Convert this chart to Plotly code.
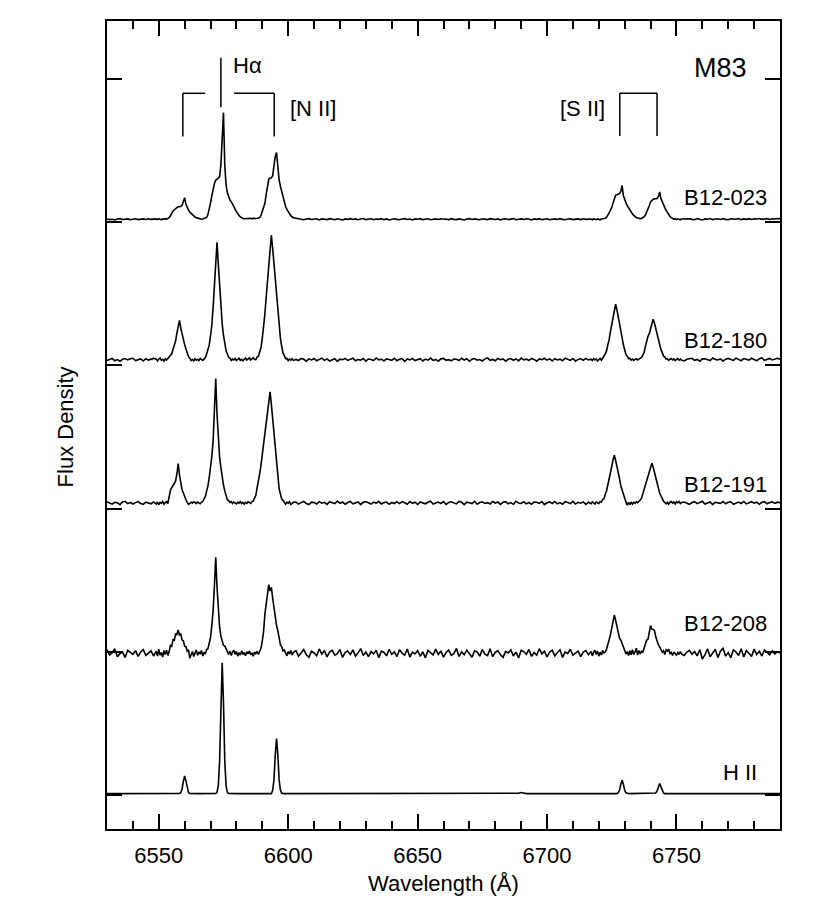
import plotly.graph_objects as go

# ---------------- data ----------------
# wavelength sampling (Angstrom), shared by all spectra
wavelength = [
    # 6530-6548
    6530, 6531, 6532, 6533, 6534, 6535, 6536, 6537, 6538, 6539,
    6540, 6541, 6542, 6543, 6544, 6545, 6546, 6547, 6548,
    # 6549-6602 (Halpha + [N II] region)
    6549, 6549.5, 6550, 6550.5, 6551, 6551.5, 6552, 6552.5, 6553, 6553.5,
    6554, 6554.5, 6555, 6555.5, 6556, 6556.5, 6557, 6557.5, 6558, 6558.5,
    6559, 6559.5, 6560, 6560.5, 6561, 6561.5, 6562, 6562.5, 6563, 6563.5,
    6564, 6564.5, 6565, 6565.5, 6566, 6566.5, 6567, 6567.5, 6568, 6568.5,
    6569, 6569.5, 6570, 6570.5, 6571, 6571.5, 6572, 6572.5, 6573, 6573.5,
    6574, 6574.5, 6575, 6575.5, 6576, 6576.5, 6577, 6577.5, 6578, 6578.5,
    6579, 6579.5, 6580, 6580.5, 6581, 6581.5, 6582, 6582.5, 6583, 6583.5,
    6584, 6584.5, 6585, 6585.5, 6586, 6586.5, 6587, 6587.5, 6588, 6588.5,
    6589, 6589.5, 6590, 6590.5, 6591, 6591.5, 6592, 6592.5, 6593, 6593.5,
    6594, 6594.5, 6595, 6595.5, 6596, 6596.5, 6597, 6597.5, 6598, 6598.5,
    6599, 6599.5, 6600, 6600.5, 6601, 6601.5, 6602,
    # 6603-6716
    6603, 6604, 6605, 6606, 6607, 6608, 6609, 6610, 6611, 6612,
    6613, 6614, 6615, 6616, 6617, 6618, 6619, 6620, 6621, 6622,
    6623, 6624, 6625, 6626, 6627, 6628, 6629, 6630, 6631, 6632,
    6633, 6634, 6635, 6636, 6637, 6638, 6639, 6640, 6641, 6642,
    6643, 6644, 6645, 6646, 6647, 6648, 6649, 6650, 6651, 6652,
    6653, 6654, 6655, 6656, 6657, 6658, 6659, 6660, 6661, 6662,
    6663, 6664, 6665, 6666, 6667, 6668, 6669, 6670, 6671, 6672,
    6673, 6674, 6675, 6676, 6677, 6678, 6679, 6680, 6681, 6682,
    6683, 6684, 6685, 6686, 6687, 6688, 6689, 6690, 6691, 6692,
    6693, 6694, 6695, 6696, 6697, 6698, 6699, 6700, 6701, 6702,
    6703, 6704, 6705, 6706, 6707, 6708, 6709, 6710, 6711, 6712,
    6713, 6714, 6715, 6716,
    # 6717-6752 ([S II] region)
    6717, 6717.5, 6718, 6718.5, 6719, 6719.5, 6720, 6720.5, 6721, 6721.5,
    6722, 6722.5, 6723, 6723.5, 6724, 6724.5, 6725, 6725.5, 6726, 6726.5,
    6727, 6727.5, 6728, 6728.5, 6729, 6729.5, 6730, 6730.5, 6731, 6731.5,
    6732, 6732.5, 6733, 6733.5, 6734, 6734.5, 6735, 6735.5, 6736, 6736.5,
    6737, 6737.5, 6738, 6738.5, 6739, 6739.5, 6740, 6740.5, 6741, 6741.5,
    6742, 6742.5, 6743, 6743.5, 6744, 6744.5, 6745, 6745.5, 6746, 6746.5,
    6747, 6747.5, 6748, 6748.5, 6749, 6749.5, 6750, 6750.5, 6751, 6751.5,
    6752,
    # 6753-6790
    6753, 6754, 6755, 6756, 6757, 6758, 6759, 6760, 6761, 6762,
    6763, 6764, 6765, 6766, 6767, 6768, 6769, 6770, 6771, 6772,
    6773, 6774, 6775, 6776, 6777, 6778, 6779, 6780, 6781, 6782,
    6783, 6784, 6785, 6786, 6787, 6788, 6789, 6790,
]

# flux above each spectrum's own baseline, in hundredths of one offset step
flux_b12_023 = [
    0.3, -0.2, 0.1, -0.4, 0.2, 0.5, -0.1, 0.0, 0.3, -0.3,
    0.2, 0.4, -0.2, 0.1, 0.3, -0.1, 0.4, 0.0, 0.2,
    0.3, -0.2, 0.4, 0.0, -0.3, 0.3, 0.1, 0.5, 0.2, 0.6,
    1.2, 2.5, 4.3, 5.8, 6.7, 7.6, 8.5, 8.9, 8.8, 9.0,
    9.8, 12.8, 15.1, 10.5, 7.8, 6.4, 5.0, 4.0, 3.1, 2.3,
    1.6, 1.2, 0.8, 0.5, 0.3, 0.1, 0.2, 0.4, 0.7, 1.3,
    3.5, 7.0, 11.5, 16.5, 21.0, 25.0, 27.3, 28.3, 28.8, 29.6,
    38.0, 58.0, 74.5, 38.0, 24.0, 18.5, 15.5, 13.5, 12.2, 10.8,
    9.0, 7.0, 5.3, 3.8, 2.6, 1.7, 1.0, 0.6, 0.4, 0.5,
    0.2, 0.6, 0.3, 0.7, 0.4, 0.8, 0.5, 0.9, 0.8, 1.0,
    1.2, 2.8, 5.5, 8.8, 11.2, 17.5, 24.5, 28.0, 28.8, 29.0,
    30.5, 37.0, 44.0, 46.6, 34.5, 27.5, 23.0, 19.2, 15.5, 12.0,
    9.0, 7.0, 5.2, 3.8, 2.6, 1.8, 1.2,
    0.8, 0.4, 0.1, -0.3, 0.2, 0.5, -0.1, 0.0, 0.4, -0.4,
    0.3, 0.1, -0.2, 0.5, 0.0, -0.3, 0.4, 0.2, -0.4, 0.3,
    0.0, 0.5, -0.1, 0.3, -0.3, 0.2, 0.6, -0.2, 0.1, 0.4,
    -0.3, 0.2, 0.0, 0.5, -0.2, 0.3, -0.4, 0.1, 0.4, 0.0,
    -0.3, 0.3, 0.5, -0.1, 0.2, -0.4, 0.3, 0.1, 0.5, -0.2,
    0.0, 0.4, -0.3, 0.2, 0.3, -0.1, 0.4, 0.1, 0.2, -0.3,
    0.5, 0.0, -0.2, 0.3, 0.1, -0.4, 0.2, 0.5, -0.1, 0.3,
    0.0, -0.3, 0.4, 0.2, -0.2, 0.5, 0.1, -0.1, 0.3, -0.4,
    0.2, 0.4, -0.2, 0.0, 0.5, -0.3, 0.1, 0.3, -0.1, 0.4,
    0.2, -0.4, 0.3, 0.0, 0.5, -0.2, 0.1, 0.4, -0.3, 0.2,
    0.3, -0.1, 0.5, 0.0, -0.3, 0.2, 0.4, -0.2, 0.1, 0.3,
    -0.2, 0.4, 0.0, 0.3,
    0.2, -0.3, 0.4, 0.0, -0.2, 0.3, 0.1, -0.3, 0.2, 0.5,
    0.3, 0.8, 1.5, 2.8, 4.5, 6.5, 8.3, 11.5, 15.0, 16.8,
    17.2, 17.8, 18.0, 19.5, 23.7, 16.5, 13.5, 11.5, 9.5, 7.8,
    6.3, 5.0, 3.8, 2.8, 1.9, 1.3, 0.9, 0.6, 0.5, 0.6,
    1.0, 1.8, 3.0, 4.8, 6.8, 9.5, 12.2, 13.6, 14.1, 14.3,
    14.4, 14.6, 15.8, 19.1, 14.5, 12.0, 10.0, 8.2, 6.3, 4.5,
    3.0, 2.0, 1.2, 0.6, 0.2, 0.3, -0.2, 0.4, 0.1, -0.3,
    0.2,
    0.3, -0.1, 0.4, 0.0, -0.3, 0.5, 0.2, -0.4, 0.3, 0.1,
    0.6, -0.2, 0.2, 0.4, -0.1, 0.5, 0.0, -0.3, 0.4, 0.2,
    0.1, 0.6, -0.2, 0.3, 0.0, 0.5, -0.1, 0.4, 0.2, 0.6,
    0.0, 0.3, 0.5, -0.1, 0.4, 0.2, 0.6, 0.3,
]

flux_b12_180 = [
    -0.5, 0.4, 0.9, -0.7, 0.1, -1.1, 0.3, 0.8, -0.2, 0.6,
    1.0, -0.6, -0.1, 0.5, -0.9, 0.7, -0.3, 0.2, 0.9,
    0.5, -0.8, 0.3, 1.2, -0.5, 0.2, -1.0, 0.6, -0.3, 0.8,
    1.7, 3.1, 4.1, 7.1, 10.2, 13.0, 18.5, 22.6, 27.4, 22.0,
    17.4, 13.8, 10.5, 7.5, 4.0, 2.2, 0.9, -0.6, 0.2, -0.9,
    0.6, -0.4, 0.3, -0.7, 0.9, 0.1, -0.5, 0.4, 1.5, 3.9,
    6.9, 10.3, 16.8, 24.2, 36.5, 50.8, 67.2, 82.0, 66.8, 51.0,
    35.7, 25.0, 16.9, 11.3, 6.4, 4.0, 1.6, 1.1, -0.5, 0.4,
    -0.2, 0.8, -0.6, 0.3, 1.0, -0.4, 0.2, -0.8, 0.5, 1.1,
    -0.3, 0.4, 1.3, -0.2, 0.6, 1.4, 0.2, 0.0, 1.8, 2.4,
    5.6, 8.4, 15.1, 22.9, 32.0, 43.8, 54.6, 67.3, 78.5, 87.0,
    77.8, 66.5, 55.0, 43.1, 32.5, 22.3, 14.9, 9.2, 4.7, 2.9,
    0.8, 0.9, -0.6, 0.4, -0.3, 0.7, -0.5,
    0.2, -0.6, 0.9, 0.3, -1.0, 0.5, -0.2, 0.8, -0.7, 0.1,
    1.1, -0.4, 0.6, -0.9, 0.2, 0.7, -1.2, 0.4, 0.0, 0.9,
    -0.5, 0.3, 1.0, -0.8, 0.1, -0.3, 0.8, -1.0, 0.5, 0.2,
    -0.6, 1.2, -0.2, 0.4, -0.9, 0.6, 0.0, -0.4, 1.0, -0.7,
    0.3, 0.8, -1.1, 0.5, -0.2, 0.9, -0.6, 0.1, 0.7, -0.9,
    0.4, -0.3, 1.1, -0.5, 0.2, -1.0, 0.6, 0.9, -0.4, 0.0,
    -0.8, 0.5, 0.3, -0.6, 1.0, -0.2, 0.7, -1.1, 0.4, 0.8,
    -0.3, 0.1, -0.9, 0.6, 1.2, -0.5, 0.2, -0.7, 0.9, 0.0,
    0.5, -1.0, 0.3, 0.8, -0.4, 0.6, -0.8, 1.1, -0.1, 0.4,
    -0.6, 0.9, 0.2, -1.1, 0.5, 0.0, 1.0, -0.3, 0.6, -0.9,
    0.7, -0.2, 0.4, -0.7, 1.1, 0.3, -0.5, 0.8, -1.0, 0.2,
    0.6, -0.4, 0.9, -0.2,
    0.4, -0.6, 0.8, -0.2, 0.5, -0.9, 0.3, 0.9, -0.4, 0.8,
    2.6, 4.1, 6.3, 10.5, 14.0, 19.7, 24.2, 30.1, 34.6, 38.7,
    35.0, 29.5, 24.8, 19.1, 14.7, 10.4, 6.9, 3.5, 2.5, 0.8,
    0.9, -0.3, 0.4, -0.5, 0.2, 0.7, -0.2, 0.5, 1.1, 1.5,
    3.2, 5.0, 9.3, 14.2, 16.4, 18.2, 22.0, 25.2, 28.2, 25.6,
    21.4, 18.1, 13.8, 10.8, 7.0, 5.1, 2.5, 1.9, 0.4, 0.7,
    -0.5, 0.3, 0.8, -0.2, 0.5, -0.6, 0.2, 0.9, -0.3, 0.4,
    -0.4,
    -0.8, 0.3, 0.5, 1.0, -0.4, 0.2, -1.1, 0.6, 0.7, 0.3,
    -0.6, 1.2, 0.1, -0.2, 0.6, -1.0, 0.4, 0.9, 0.0, -0.5,
    1.1, 0.3, -0.7, 0.8, 0.4, -0.3, 1.0, 0.2, -0.8, 0.6,
    1.2, -0.4, 0.5, 0.9, -0.2, 0.3, 1.0, 0.4,
]

flux_b12_191 = [
    0.8, -0.3, -0.9, 0.4, 0.1, -1.2, 0.6, 1.1, -0.5, 0.3,
    -0.8, 0.2, 0.9, -0.4, -1.0, 0.5, 0.1, -0.6, 0.7,
    -0.8, 0.6, -1.2, 0.4, -0.3, 1.0, -0.9, 0.2, 0.9, -0.4,
    4.6, 8.8, 10.6, 12.3, 13.4, 15.2, 20.3, 27.5, 19.6, 14.3,
    9.1, 6.9, 3.6, 2.2, 0.4, -1.0, -0.4, 0.5, -0.2, 0.8,
    0.3, -0.5, 0.6, 0.1, -0.6, 0.4, 1.0, 2.9, 4.5, 8.2,
    11.9, 17.9, 24.0, 32.5, 43.4, 62.6, 86.9, 62.3, 43.8, 31.9,
    24.6, 17.1, 12.5, 8.4, 5.1, 2.2, 1.6, 0.3, 0.9, -0.4,
    0.6, 0.2, -0.7, 0.5, -0.2, 0.9, -0.5, 0.3, -0.9, 0.4,
    -0.3, 0.7, 0.0, -0.4, 0.9, 1.2, 3.3, 5.3, 10.7, 14.5,
    20.4, 26.5, 33.9, 41.0, 48.9, 56.8, 64.9, 71.5, 77.5, 68.8,
    58.3, 46.2, 35.9, 25.0, 17.0, 9.8, 6.2, 2.7, 1.8, 0.2,
    -0.9, 0.5, -0.2, 0.8, -1.1, -0.3, 0.4,
    0.6, -0.8, 0.2, 1.0, -0.4, -1.1, 0.5, 0.3, -0.7, 0.9,
    -0.2, 0.4, -1.0, 0.8, 0.1, -0.5, 1.2, -0.3, 0.6, -0.9,
    0.3, 1.0, -0.6, 0.0, 0.7, -1.2, 0.4, 0.9, -0.2, -0.8,
    0.5, -0.1, 1.1, -0.7, 0.2, 0.6, -1.0, 0.3, -0.4, 0.8,
    -0.5, 0.9, 0.1, -0.9, 1.0, -0.3, 0.5, -1.1, 0.7, 0.2,
    -0.6, 0.4, 1.2, -0.8, 0.0, 0.6, -0.4, 0.9, -1.0, 0.3,
    0.8, -0.2, -0.7, 1.0, 0.4, -1.2, 0.5, 0.1, -0.5, 1.1,
    -0.9, 0.3, 0.7, -0.3, 0.2, -0.8, 1.0, -0.1, 0.6, -1.1,
    0.4, 0.9, -0.6, 0.2, -0.9, 1.2, 0.0, -0.4, 0.8, -0.7,
    0.3, -1.0, 0.6, 0.5, -0.3, 0.9, -1.2, 0.1, 0.7, -0.4,
    1.0, -0.6, 0.2, -0.9, 0.8, 0.3, -0.5, 1.1, -0.8, 0.4,
    -0.2, 0.7, -1.0, 0.5,
    -0.5, 0.7, 0.1, -0.8, 0.6, 0.2, -0.4, 0.9, 0.6, 2.3,
    3.0, 6.1, 8.5, 12.7, 16.4, 21.2, 25.4, 30.2, 33.3, 29.7,
    25.9, 20.7, 17.0, 12.0, 9.0, 5.4, 2.6, 0.5, -1.5, 0.3,
    -1.2, 0.6, -0.8, 0.5, -0.3, 0.8, 0.2, 1.0, 2.0, 3.3,
    6.2, 9.3, 11.8, 14.7, 17.3, 21.5, 24.7, 27.7, 25.1, 21.0,
    17.8, 13.6, 10.5, 6.9, 5.0, 2.4, 1.2, 0.3, -0.6, 0.4,
    -0.9, 0.5, 1.0, -0.2, 0.6, -0.7, 0.8, 0.1, 1.0, -0.5,
    0.3,
    0.6, -0.4, -1.0, 0.3, 0.9, -0.5, 0.4, 1.1, -0.8, 0.2,
    0.7, -1.2, 0.5, 0.0, -0.3, 1.0, -0.6, 0.4, 0.8, -0.9,
    0.1, 0.6, -0.4, 1.0, -0.7, 0.3, 0.8, -0.2, 0.5, -1.0,
    0.4, 0.9, -0.6, 0.2, 0.7, -0.3, 0.5, 0.1,
]

flux_b12_208 = [
    2.5, -1.2, 0.4, 3.2, -2.4, -0.3, 1.0, -3.0, 2.1, 0.6,
    -0.8, 1.8, -2.2, 0.9, 2.6, -1.5, -0.2, 1.7, -1.9,
    1.5, -2.0, 2.8, -1.2, 0.5, -2.6, 1.9, -0.8, 2.2, -1.5,
    1.0, 5.5, 4.8, 9.5, 9.0, 13.5, 13.2, 16.3, 12.8, 13.4,
    9.2, 8.7, 5.0, 4.6, 1.5, 2.4, -3.5, -1.0, 1.2, -2.2,
    0.8, 2.4, -1.5, 1.0, -0.6, 2.0, -1.9, 0.7, -0.5, 2.8,
    3.2, 7.4, 11.0, 19.5, 30.0, 47.2, 67.0, 46.5, 30.8, 18.2,
    12.0, 7.8, 5.5, 5.2, 3.0, 1.8, -0.8, 1.5, -1.6, 0.9,
    2.1, -0.7, 1.3, -2.0, 0.4, -1.2, 1.8, -0.9, 0.6, -1.7,
    1.1, -0.3, 1.6, -1.1, 0.3, -2.1, 0.9, -0.5, 1.4, -0.8,
    0.9, 3.6, 8.7, 15.2, 27.5, 33.6, 42.4, 48.0, 43.5, 46.0,
    38.6, 31.5, 25.7, 19.4, 15.8, 10.9, 5.8, 4.7, 1.6, 2.3,
    -0.4, -1.8, 1.2, -0.5, 2.0, -1.3, 0.7,
    1.8, -2.1, 0.7, 2.6, -1.0, -2.8, 1.4, 0.2, -1.7, 3.0,
    -0.6, 1.9, -2.5, 0.8, 2.2, -1.3, -0.2, 2.7, -2.9, 0.5,
    1.6, -0.9, 2.4, -2.0, 0.3, 3.3, -1.6, 0.9, -2.4, 1.2,
    -0.4, 2.1, -3.1, 1.5, 0.6, -1.8, 2.8, -0.7, 1.0, -2.3,
    2.5, 0.1, -1.4, 3.0, -2.6, 0.8, -0.5, 1.9, -2.1, 1.1,
    -3.2, 2.0, 0.4, -1.2, 2.9, -0.8, 1.6, -2.7, 0.6, 2.3,
    -1.5, -0.3, 3.4, -2.2, 1.0, -1.0, 2.2, 0.0, -2.8, 1.7,
    0.9, -2.0, 2.6, -0.6, -1.6, 3.1, -2.4, 0.7, 1.8, -1.1,
    -2.9, 1.3, 0.2, 2.5, -1.9, 0.8, -3.3, 2.0, 1.2, -0.7,
    2.7, -2.2, 0.5, -1.3, 3.2, -0.4, 1.5, -2.6, 0.9, 2.1,
    -1.8, 0.6, 2.4, -2.9, 1.0, -0.2, 2.8, -1.4, 0.3, 1.6,
    -2.3, 0.9, 1.9, -1.0,
    1.2, -1.8, 0.6, 2.2, -0.9, 1.5, -2.0, 0.8, -1.2, 1.9,
    0.2, 1.0, 3.0, 5.5, 9.5, 13.0, 17.5, 22.5, 26.7, 23.0,
    18.5, 14.0, 10.5, 9.3, 7.0, 4.5, 2.0, -0.5, 1.2, -1.6,
    1.8, -1.0, 2.5, -0.8, 1.0, 3.5, -1.3, 2.0, -0.5, 1.5,
    0.8, 3.5, 7.0, 9.3, 9.8, 14.0, 19.3, 17.0, 16.3, 16.0,
    11.5, 8.5, 6.0, 4.5, 2.5, 0.8, 1.8, -0.8, 2.4, 1.5,
    2.8, -0.5, 0.6, -1.5, 0.9, -0.4, -1.3, 0.5, -0.8, 1.2,
    -0.6,
    -1.5, 0.8, 2.0, -0.6, 1.2, -1.8, 2.6, -4.0, -1.2, 3.2,
    -2.5, 0.4, 2.8, -3.0, 1.5, 3.5, -2.0, 0.5, -3.2, 2.4,
    0.9, -1.6, 3.1, -2.6, 1.8, 0.0, -2.2, 2.9, -0.8, 1.4,
    -1.9, 2.2, 0.6, -1.0, 1.6, -0.5, 0.9, 0.3,
]

flux_h2 = [
    0, 0, 0, 0, 0, 0, 0, 0, 0, 0,
    0, 0, 0, 0, 0, 0, 0, 0, 0,
    0, 0, 0, 0, 0, 0, 0, 0, 0, 0,
    0, 0, 0, 0, 0, 0, 0, 0, 0.1, 0.7,
    3.1, 8.7, 12.4, 8.7, 3.1, 0.7, 0.1, 0, 0, 0,
    0, 0, 0, 0, 0, 0, 0, 0, 0, 0,
    0, 0, 0, 0, 0, 0, 0.1, 0.9, 5.5, 22.8,
    64.0, 91.3, 64.0, 22.8, 5.5, 0.9, 0.1, 0, 0, 0,
    0, 0, 0, 0, 0, 0, 0, 0, 0, 0,
    0, 0, 0, 0, 0, 0, 0, 0, 0, 0,
    0, 0, 0, 0, 0, 0, 0, 0, 0, 0,
    2.3, 9.6, 26.9, 38.4, 26.9, 9.6, 2.3, 0.4, 0, 0,
    0, 0, 0, 0, 0, 0, 0,
    0, 0, 0, 0, 0, 0, 0, 0, 0, 0,
    0, 0, 0, 0, 0, 0, 0, 0, 0, 0,
    0, 0, 0, 0, 0, 0, 0, 0, 0, 0,
    0, 0, 0, 0, 0, 0, 0, 0, 0, 0,
    0, 0, 0, 0, 0, 0, 0, 0, 0, 0,
    0, 0, 0, 0, 0, 0, 0, 0, 0, 0,
    0, 0, 0, 0, 0, 0, 0, 0, 0, 0,
    0, 0, 0, 0, 0, 0, 0, 0, 0, 0,
    0, 0, 0, 0, 0, 0, 0.3, 0.8, 0.3, 0,
    0, 0, 0, 0, 0, 0, 0, 0, 0, 0,
    0, 0, 0, 0, 0, 0, 0, 0, 0, 0,
    0, 0, 0, 0,
    0, 0, 0, 0, 0, 0, 0, 0, 0, 0,
    0, 0, 0, 0, 0, 0, 0, 0, 0, 0,
    0, 0.6, 2.3, 6.5, 9.3, 6.5, 2.3, 0.6, 0, 0,
    0, 0, 0, 0, 0, 0, 0, 0, 0, 0,
    0, 0, 0, 0, 0, 0, 0, 0, 0, 0,
    0.4, 1.8, 4.9, 7.0, 4.9, 1.8, 0.4, 0, 0, 0,
    0, 0, 0, 0, 0, 0, 0, 0, 0, 0,
    0,
    0, 0, 0, 0, 0, 0, 0, 0, 0, 0,
    0, 0, 0, 0, 0, 0, 0, 0, 0, 0,
    0, 0, 0, 0, 0, 0, 0, 0, 0, 0,
    0, 0, 0, 0, 0, 0, 0, 0,
]

spectrum_names = ["B12-023", "B12-180", "B12-191", "B12-208", "H II"]
spectrum_offsets = [4.02, 3.04, 2.04, 0.99, 0.01]
label_x = [6785.7, 6785.7, 6785.7, 6785.7, 6781.9]
label_y = [4.172, 3.177, 2.172, 1.201, 0.161]

# emission-line identification marks (wavelengths in Angstrom)
halpha_mark = 6574.0
nii_marks = [6559.3, 6594.6]
nii_gap = [6568.0, 6579.1]
sii_marks = [6728.1, 6742.5]

all_flux = [flux_b12_023, flux_b12_180, flux_b12_191, flux_b12_208, flux_h2]
for fl in all_flux:
    if len(fl) != len(wavelength):
        raise ValueError("length mismatch %d vs %d" % (len(fl), len(wavelength)))

FONT = "Liberation Sans, Arial, Helvetica, sans-serif"

fig = go.Figure()
for name, fl, off in zip(spectrum_names, all_flux, spectrum_offsets):
    fig.add_trace(go.Scatter(
        x=wavelength, y=[off + v / 100.0 for v in fl], mode="lines",
        name=name, line=dict(color="black", width=1.6),
        hoverinfo="skip", showlegend=False))

shapes = []
lw = 1.5
# H alpha tick
shapes.append(dict(type="line", xref="x", yref="y", x0=halpha_mark, x1=halpha_mark,
                   y0=4.802, y1=5.149, line=dict(color="black", width=lw)))
# [N II] bracket
shapes.append(dict(type="line", xref="x", yref="y", x0=nii_marks[0], x1=nii_marks[0],
                   y0=4.599, y1=4.900, line=dict(color="black", width=lw)))
shapes.append(dict(type="line", xref="x", yref="y", x0=nii_marks[0], x1=nii_gap[0],
                   y0=4.900, y1=4.900, line=dict(color="black", width=lw)))
shapes.append(dict(type="line", xref="x", yref="y", x0=nii_gap[1], x1=nii_marks[1],
                   y0=4.900, y1=4.900, line=dict(color="black", width=lw)))
shapes.append(dict(type="line", xref="x", yref="y", x0=nii_marks[1], x1=nii_marks[1],
                   y0=4.599, y1=4.900, line=dict(color="black", width=lw)))
# [S II] bracket
shapes.append(dict(type="line", xref="x", yref="y", x0=sii_marks[0], x1=sii_marks[0],
                   y0=4.602, y1=4.900, line=dict(color="black", width=lw)))
shapes.append(dict(type="line", xref="x", yref="y", x0=sii_marks[0], x1=sii_marks[1],
                   y0=4.900, y1=4.900, line=dict(color="black", width=lw)))
shapes.append(dict(type="line", xref="x", yref="y", x0=sii_marks[1], x1=sii_marks[1],
                   y0=4.602, y1=4.900, line=dict(color="black", width=lw)))

annotations = []
for name, lx, ly in zip(spectrum_names, label_x, label_y):
    annotations.append(dict(x=lx, y=ly, xref="x", yref="y", text=name, showarrow=False,
                            xanchor="right", yanchor="middle",
                            font=dict(family=FONT, size=22, color="black")))
annotations += [
    dict(x=6577.9, y=5.094, xref="x", yref="y", text="Hα", showarrow=False,
         xanchor="left", yanchor="middle", font=dict(family=FONT, size=22, color="black")),
    dict(x=6600.1, y=4.797, xref="x", yref="y", text="[N II]", showarrow=False,
         xanchor="left", yanchor="middle", font=dict(family=FONT, size=22, color="black")),
    dict(x=6723.0, y=4.797, xref="x", yref="y", text="[S II]", showarrow=False,
         xanchor="right", yanchor="middle", font=dict(family=FONT, size=22, color="black")),
    dict(x=6778.0, y=5.077, xref="x", yref="y", text="M83", showarrow=False,
         xanchor="right", yanchor="middle", font=dict(family=FONT, size=27, color="black")),
    dict(x=0.5, y=-0.068, xref="paper", yref="paper", text="Wavelength (Å)", showarrow=False,
         xanchor="center", yanchor="middle", font=dict(family=FONT, size=22, color="black")),
    dict(x=-0.0624, y=0.497, xref="paper", yref="paper", text="Flux Density", showarrow=False,
         textangle=-90, xanchor="center", yanchor="middle",
         font=dict(family=FONT, size=22, color="black")),
]

fig.update_layout(
    width=830, height=907,
    margin=dict(l=107, r=50, t=21, b=78),
    paper_bgcolor="white", plot_bgcolor="white",
    shapes=shapes, annotations=annotations,
    font=dict(family=FONT, size=22, color="black"),
)
fig.update_xaxes(
    range=[6530, 6790], showgrid=False, zeroline=False,
    showline=True, linecolor="black", linewidth=2, mirror="ticks",
    ticks="inside", ticklen=15, tickwidth=1.5, tickcolor="black",
    tickvals=[6550, 6600, 6650, 6700, 6750],
    ticktext=["6550", "6600", "6650", "6700", "6750"],
    tickfont=dict(family=FONT, size=22, color="black"),
    ticklabelstandoff=6,
    minor=dict(ticks="inside", ticklen=8, tickwidth=1.5, tickcolor="black",
               dtick=10, tick0=6530, showgrid=False),
)
fig.update_yaxes(
    range=[-0.237, 5.405], showgrid=False, zeroline=False,
    showline=True, linecolor="black", linewidth=2, mirror="ticks",
    ticks="inside", ticklen=15, tickwidth=1.5, tickcolor="black",
    tick0=0, dtick=1, showticklabels=False,
)

fig.write_html("out.html", config={"displayModeBar": False},
               post_script="document.body.style.margin='0px';")
